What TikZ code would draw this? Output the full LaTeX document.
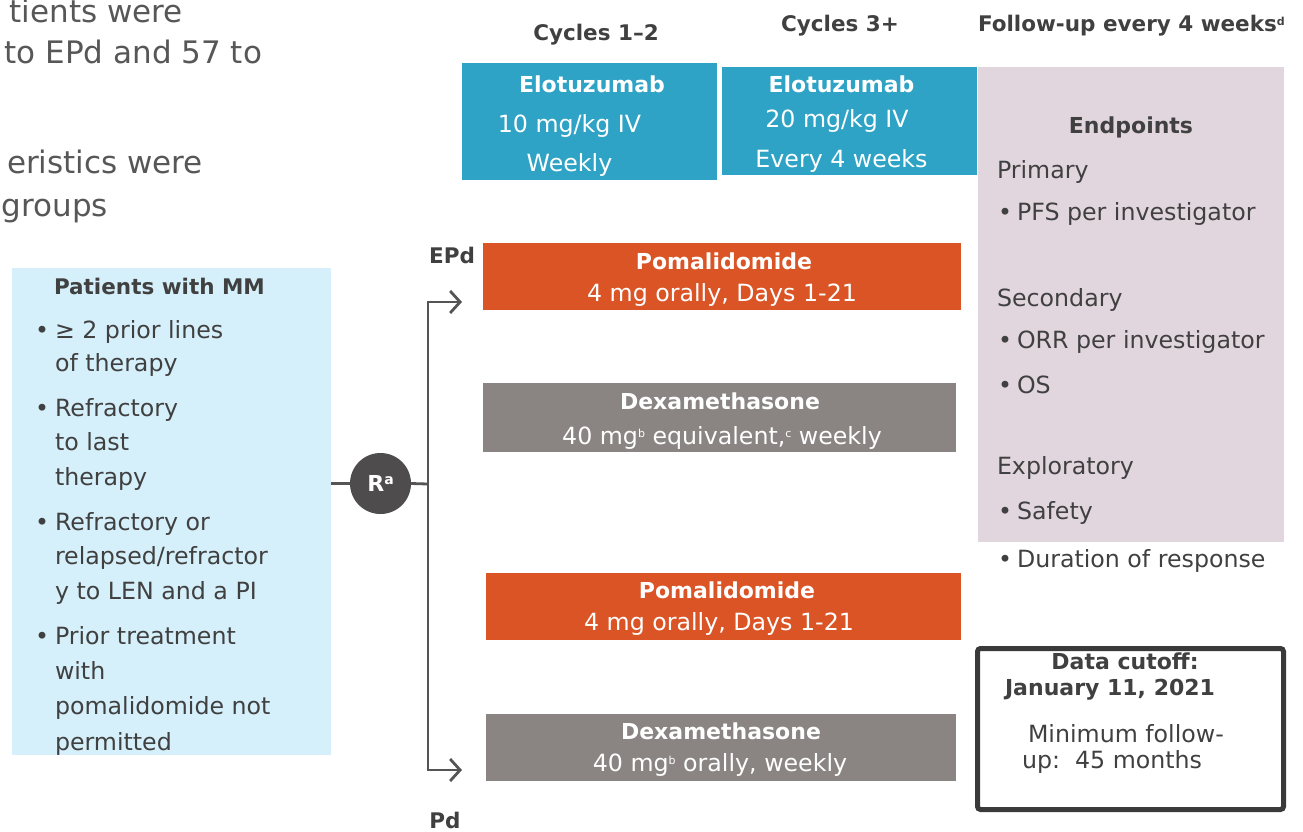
\documentclass[tikz,border=0pt]{standalone}
\usepackage{fontspec}
\setmainfont{DejaVu Sans}
\usetikzlibrary{arrows.meta}

\definecolor{ink}{HTML}{404040}
\definecolor{slide}{HTML}{575757}
\definecolor{elo}{HTML}{2EA3C5}
\definecolor{pom}{HTML}{DB5426}
\definecolor{dex}{HTML}{8A8483}
\definecolor{pat}{HTML}{D5F0FA}
\definecolor{endp}{HTML}{E2D6DE}
\definecolor{rnd}{HTML}{4E4C4D}
\definecolor{conn}{HTML}{555555}
\definecolor{frame}{HTML}{3A3A3A}

\newcommand\fs[1]{\fontsize{#1}{#1}\selectfont}
\newcommand\mysup[2][11]{\raisebox{0.55ex}{\fs{#1}#2}}

\tikzset{
  panel/.style={fill=#1, draw=none, inner sep=0pt, outer sep=0pt},
  reg/.style={inner sep=0pt, outer sep=0pt, text height=17pt, text depth=0pt, font=\fs{23.7}, text=ink},
  bld/.style={reg, font=\fs{22}\bfseries},
  hdr/.style={reg, font=\fs{21.5}\bfseries},
  wht/.style={text=white},
  bigtxt/.style={reg, text height=22pt, font=\fs{31}, text=slide},
  link/.style={draw=conn, line width=2.8pt},
  arr/.style={link, -{Straight Barb[length=10pt,width=22pt]}},
}

\begin{document}
\begin{tikzpicture}[x=1pt,y=-1pt]
\useasboundingbox (0,0) rectangle (1303,832);

% slide text continuing from the left
\node[bigtxt, anchor=east] (s1) at (183,12)  {tients were};
\node[bigtxt, anchor=east] (s2) at (262,53)  {to EPd and 57 to};
\node[bigtxt, anchor=east] (s3) at (203,162) {eristics were};
\node[bigtxt, anchor=east] (s4) at (108,205) {groups};

% column headers
\node[hdr] (h1) at (596,32) {Cycles 1–2};
\node[hdr] (h2) at (840,23) {Cycles 3+};
\node[hdr, anchor=west] (h3) at (978,23) {Follow-up every 4 weeks\mysup{d}};

% coloured panels
\node[panel=pat,  minimum width=319pt, minimum height=487pt] (pbox) at (171.5,511.5) {};
\node[panel=elo,  minimum width=255pt, minimum height=117pt] (elo1) at (589.5,121.5) {};
\node[panel=elo,  minimum width=255pt, minimum height=108pt] (elo2) at (849.5,121) {};
\node[panel=endp, minimum width=306pt, minimum height=475pt] (ebox) at (1131,304.5) {};
\node[panel=pom,  minimum width=478pt, minimum height=67pt] (pom1) at (722,276.5) {};
\node[panel=dex,  minimum width=473pt, minimum height=69pt] (dex1) at (719.5,417.5) {};
\node[panel=pom,  minimum width=475pt, minimum height=67pt] (pom2) at (723.5,606.5) {};
\node[panel=dex,  minimum width=470pt, minimum height=67pt] (dex2) at (721,747.5) {};

% patient population
\node[hdr, anchor=west] (pt) at (54,286) {Patients with MM};
\foreach \y/\n in {330/b1, 408/b2, 522/b3, 636/b4}
  \node[reg] (\n) at (42,\y) {•};
\node[reg, anchor=west] (p1)  at (55,330) {≥ 2 prior lines};
\node[reg, anchor=west] (p2)  at (55,363) {of therapy};
\node[reg, anchor=west] (p3)  at (55,408) {Refractory};
\node[reg, anchor=west] (p4)  at (55,442) {to last};
\node[reg, anchor=west] (p5)  at (55,477) {therapy};
\node[reg, anchor=west] (p6)  at (55,522) {Refractory or};
\node[reg, anchor=west] (p7)  at (55,556) {relapsed/refractor};
\node[reg, anchor=west] (p8)  at (55,591) {y to LEN and a PI};
\node[reg, anchor=west] (p9)  at (55,636) {Prior treatment};
\node[reg, anchor=west] (p10) at (55,671) {with};
\node[reg, anchor=west] (p11) at (55,706) {pomalidomide not};
\node[reg, anchor=west] (p12) at (55,742) {permitted};

% randomisation and arms
\node[circle, fill=rnd, minimum size=61pt, inner sep=0pt, outer sep=0pt,
      text=white, font=\fs{22}\bfseries] (rc) at (380.5,483.5) {R\mysup[14]{a}};
\coordinate (j)  at (428,484);
\coordinate (a1) at (462,302);
\coordinate (a2) at (462,770);
\draw[link] (pbox.east |- rc) -- (rc.west);
\draw[link] (rc.east) -- (j);
\draw[arr] (j) |- (a1);
\draw[arr] (j) |- (a2);

\node[hdr] (epd) at (452,255) {EPd};
\node[hdr] (pd)  at (445,820) {Pd};

% elotuzumab
\node[bld, wht] (e1a) at (592,84)   {Elotuzumab};
\node[reg, wht] (e1b) at (569.5,124) {10 mg/kg IV};
\node[reg, wht] (e1c) at (569.5,163) {Weekly};
\node[bld, wht] (e2a) at (841.5,84)  {Elotuzumab};
\node[reg, wht] (e2b) at (837,119)   {20 mg/kg IV};
\node[reg, wht] (e2c) at (841.5,159) {Every 4 weeks};

% pomalidomide / dexamethasone
\node[bld, wht] (t1a) at (724,261) {Pomalidomide};
\node[reg, wht] (t1b) at (722,293) {4 mg orally, Days 1-21};
\node[bld, wht] (t2a) at (720,401) {Dexamethasone};
\node[reg, wht] (t2b) at (722,436) {40 mg\mysup{b} equivalent,\mysup{c} weekly};
\node[bld, wht] (t3a) at (727,590) {Pomalidomide};
\node[reg, wht] (t3b) at (719,622) {4 mg orally, Days 1-21};
\node[bld, wht] (t4a) at (721,731) {Dexamethasone};
\node[reg, wht] (t4b) at (720,763) {40 mg\mysup{b} orally, weekly};

% endpoints
\node[bld] (en) at (1131,125) {Endpoints};
\node[reg, anchor=west] (en1) at (997,170) {Primary};
\node[reg, anchor=west] (en2) at (997,298) {Secondary};
\node[reg, anchor=west] (en3) at (997,466) {Exploratory};
\foreach \y/\n in {212/c1, 340/c2, 385/c3, 511/c4, 559/c5}
  \node[reg] (\n) at (1005,\y) {•};
\node[reg, anchor=west] (ep1) at (1017,212) {PFS per investigator};
\node[reg, anchor=west] (ep2) at (1017,340) {ORR per investigator};
\node[reg, anchor=west] (ep3) at (1017,385) {OS};
\node[reg, anchor=west] (ep4) at (1017,511) {Safety};
\node[reg, anchor=west] (ep5) at (1017,559) {Duration of response};

% data cutoff
\node[draw=frame, line width=5pt, rounded corners=3pt, minimum width=306pt,
      minimum height=161pt, inner sep=0pt, outer sep=0pt] (cut) at (1130.5,729) {};
\node[bld] (d1) at (1125,661) {Data cutoff:};
\node[bld] (d2) at (1110,687) {January 11, 2021};
\node[reg, anchor=west] (d3) at (1028,734) {Minimum follow-};
\node[reg, anchor=west] (d4) at (1022,760) {up:\ \ 45 months};
\end{tikzpicture}
\end{document}
